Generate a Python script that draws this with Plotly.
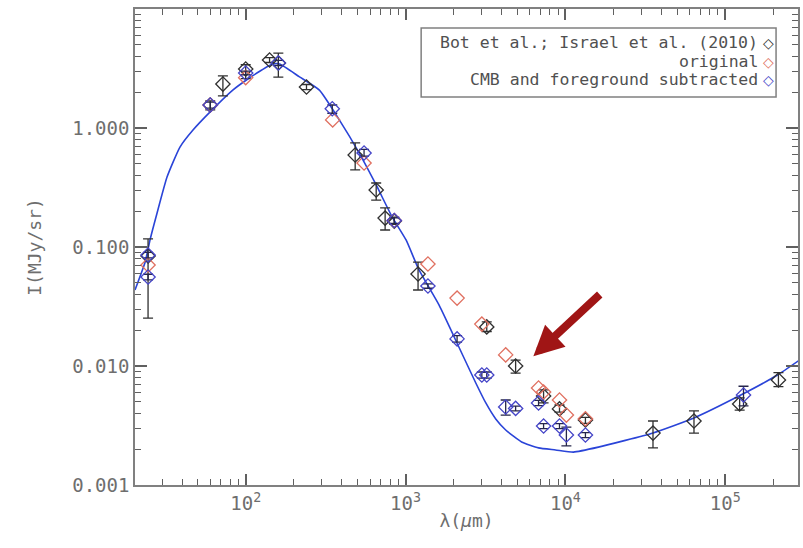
import math
import plotly.graph_objects as go

# ---------------- data ----------------
# Bot et al.; Israel et al. (2010)  (black)
bot_lam = [24.5, 60, 72, 100, 141, 160, 240, 484, 655, 745, 850, 1197, 3220, 4880, 7300, 9180, 13340, 35300, 63700, 123000, 215000]
bot_I   = [0.084, 1.56, 2.34, 3.13, 3.73, 3.52, 2.21, 0.593, 0.301, 0.175, 0.165, 0.0593, 0.0213, 0.0100, 0.0056, 0.00436, 0.00352, 0.00273, 0.00345, 0.0048, 0.00762]
bot_lo  = [0.0253, 1.42, 1.86, 2.6, 3.55, 2.68, 2.1, 0.445, 0.248, 0.139, 0.155, 0.0435, 0.0195, 0.0087, 0.0049, 0.0041, 0.0033, 0.00205, 0.00273, 0.00425, 0.0067]
bot_hi  = [0.117, 1.69, 2.74, 3.4, 3.9, 4.25, 2.32, 0.75, 0.345, 0.213, 0.178, 0.0746, 0.0235, 0.0112, 0.0063, 0.0047, 0.0037, 0.00345, 0.00419, 0.00539, 0.00878]

# original (red)
orig_lam = [24.5, 60, 100, 350, 550, 850, 1380, 2100, 3000, 4230, 6790, 7300, 9180, 10140, 13340]
orig_I   = [0.0706, 1.56, 2.65, 1.17, 0.508, 0.167, 0.072, 0.0372, 0.0225, 0.0124, 0.00653, 0.00605, 0.00518, 0.00387, 0.0036]

# CMB and foreground subtracted (blue)
sub_lam = [24.5, 24.5, 60, 100, 160, 348, 550, 850, 1380, 2100, 3000, 3220, 4230, 4880, 6790, 7300, 9180, 10140, 13340, 130000]
sub_I   = [0.0856, 0.056, 1.56, 2.9, 3.52, 1.45, 0.617, 0.167, 0.047, 0.0169, 0.0084, 0.0084, 0.00452, 0.0044, 0.00489, 0.00313, 0.00313, 0.00263, 0.00263, 0.0057]
sub_lo  = [0.081, 0.053, 1.47, 2.8, 3.35, 1.33, 0.58, 0.158, 0.045, 0.0159, 0.0079, 0.0079, 0.00387, 0.0042, 0.00465, 0.00298, 0.00298, 0.00213, 0.0025, 0.00462]
sub_hi  = [0.090, 0.059, 1.65, 3.0, 3.7, 1.56, 0.66, 0.176, 0.049, 0.018, 0.0089, 0.0089, 0.00518, 0.0046, 0.00515, 0.00328, 0.00328, 0.00307, 0.00276, 0.00676]

# model curve (blue line)
mod_lam = [20.3, 23.5, 25.2, 27.9, 32.2, 38.8, 46.8, 59.7, 83, 101, 126, 147, 163, 217, 289, 385, 513, 655, 824, 1007, 1214, 1618, 2155, 2750, 3177, 3665, 4230, 5320, 6790, 8670, 11220, 16070, 35300, 63700, 125000, 212000, 291000]
mod_I   = [0.0435, 0.0748, 0.1146, 0.193, 0.387, 0.692, 0.962, 1.36, 2.08, 2.53, 3.07, 3.45, 3.45, 2.69, 2.08, 1.17, 0.616, 0.332, 0.179, 0.1146, 0.0641, 0.0326, 0.01445, 0.0072, 0.00489, 0.00359, 0.0029, 0.0023, 0.00205, 0.00197, 0.00189, 0.00208, 0.00274, 0.00366, 0.0057, 0.0084, 0.0112]

y_tickvals = [0.001, 0.01, 0.1, 1, 10]
y_ticktext = ["0.001", "0.010", "0.100", "1.000", "10.000"]
x_tickvals = [100, 1000, 10000, 100000]
x_ticktext = ["10<sup>2</sup>", "10<sup>3</sup>", "10<sup>4</sup>", "10<sup>5</sup>"]

legend_labels = ["Bot et al.; Israel et al. (2010)", "original", "CMB and foreground subtracted"]

# ---------------- style ----------------
C_BLACK = "#303030"
C_RED = "#e07060"
C_BLUE = "#4545c8"
C_LINE = "#2a44d8"
C_AX = "#808080"
C_TICK = "#606060"
C_TXT = "#6e6e6e"
FONT = "DejaVu Sans Mono"

x_minor = [m * 10 ** e for e in range(1, 6) for m in range(2, 10)]
y_minor = [m * 10 ** e for e in range(-3, 1) for m in range(2, 10)]
X_RANGE = [math.log10(20.3), math.log10(2.85e5)]
Y_RANGE = [-3, 1]

fig = go.Figure()

fig.add_trace(go.Scatter(x=mod_lam, y=mod_I, mode="lines", line=dict(color=C_LINE, width=1.6, shape="spline", smoothing=0.5),
                         showlegend=False, hoverinfo="skip"))

fig.add_trace(go.Scatter(
    x=bot_lam, y=bot_I, mode="markers",
    marker=dict(symbol="diamond-open", size=11, color=C_BLACK, line=dict(width=1.3)),
    error_y=dict(type="data", symmetric=False,
                 array=[h - v for h, v in zip(bot_hi, bot_I)],
                 arrayminus=[v - l for l, v in zip(bot_lo, bot_I)],
                 color=C_BLACK, thickness=1.3, width=5),
    name=legend_labels[0], showlegend=False))

fig.add_trace(go.Scatter(
    x=orig_lam, y=orig_I, mode="markers",
    marker=dict(symbol="diamond-open", size=11, color=C_RED, line=dict(width=1.3)),
    name=legend_labels[1], showlegend=False))

fig.add_trace(go.Scatter(
    x=sub_lam, y=sub_I, mode="markers",
    marker=dict(symbol="diamond-open", size=11, color=C_BLUE, line=dict(width=1.3)),
    error_y=dict(type="data", symmetric=False,
                 array=[h - v for h, v in zip(sub_hi, sub_I)],
                 arrayminus=[v - l for l, v in zip(sub_lo, sub_I)],
                 color="#26264a", thickness=1.3, width=5),
    name=legend_labels[2], showlegend=False))

# invisible trace on the overlay axes so that they are drawn (minor ticks)
fig.add_trace(go.Scatter(x=[mod_lam[0]], y=[mod_I[0]], xaxis="x2", yaxis="y2", mode="markers",
                         marker=dict(opacity=0), showlegend=False, hoverinfo="skip"))

fig.update_layout(
    xaxis=dict(type="log", range=X_RANGE, showgrid=False, zeroline=False,
               showline=True, linecolor=C_AX, linewidth=1.5, mirror="ticks",
               ticks="inside", ticklen=11, tickcolor=C_TICK, tickwidth=1.5,
               tickmode="array", tickvals=x_tickvals, ticktext=x_ticktext,
               tickfont=dict(family=FONT, size=19, color=C_TXT),
               title=dict(text="λ(<i>μ</i>m)", font=dict(family=FONT, size=18, color=C_TXT), standoff=2)),
    yaxis=dict(type="log", range=Y_RANGE, showgrid=False, zeroline=False,
               showline=True, linecolor=C_AX, linewidth=1.5, mirror="ticks",
               ticks="inside", ticklen=12, tickcolor=C_TICK, tickwidth=1.5,
               tickmode="array", tickvals=y_tickvals, ticktext=y_ticktext,
               tickfont=dict(family=FONT, size=19, color=C_TXT),
               title=dict(text="I(MJy/sr)", font=dict(family=FONT, size=18, color=C_TXT), standoff=26)),
    xaxis2=dict(type="log", range=X_RANGE, overlaying="x", anchor="y2", showgrid=False, zeroline=False,
                showline=False, mirror="ticks", ticks="inside", ticklen=6, tickcolor=C_TICK, tickwidth=1.3,
                tickmode="array", tickvals=x_minor, showticklabels=False),
    yaxis2=dict(type="log", range=Y_RANGE, overlaying="y", anchor="x2", showgrid=False, zeroline=False,
                showline=False, mirror="ticks", ticks="inside", ticklen=6, tickcolor=C_TICK, tickwidth=1.3,
                tickmode="array", tickvals=y_minor, showticklabels=False),
)

# legend box (drawn manually to keep IDL-style right-aligned entries)
fig.add_shape(type="rect", xref="paper", yref="paper", x0=0.4316, x1=0.9669, y0=0.815, y1=0.960,
              line=dict(color=C_AX, width=1.5), fillcolor="white")
leg_y = [0.929, 0.889, 0.851]
leg_col = [C_BLACK, C_RED, C_BLUE]
for lab, yy, col in zip(legend_labels, leg_y, leg_col):
    fig.add_annotation(xref="paper", yref="paper", x=0.943, y=yy, text=lab, showarrow=False,
                       xanchor="right", yanchor="middle",
                       font=dict(family=FONT, size=16.5, color="#505050"))
    fig.add_annotation(xref="paper", yref="paper", x=0.956, y=yy, text="◇", showarrow=False,
                       xanchor="center", yanchor="middle",
                       font=dict(family="DejaVu Sans", size=14, color=col))

# red arrow
fig.add_annotation(x=math.log10(6300), y=math.log10(0.0121), ax=math.log10(16750), ay=math.log10(0.041),
                   xref="x", yref="y", axref="x", ayref="y", text="", showarrow=True,
                   arrowhead=2, arrowsize=0.75, arrowwidth=8, arrowcolor="#a01515")

fig.update_layout(width=803, height=548, margin=dict(l=135, r=3, t=9, b=63),
                  plot_bgcolor="white", paper_bgcolor="white", showlegend=False)

fig.write_html("out.html")
